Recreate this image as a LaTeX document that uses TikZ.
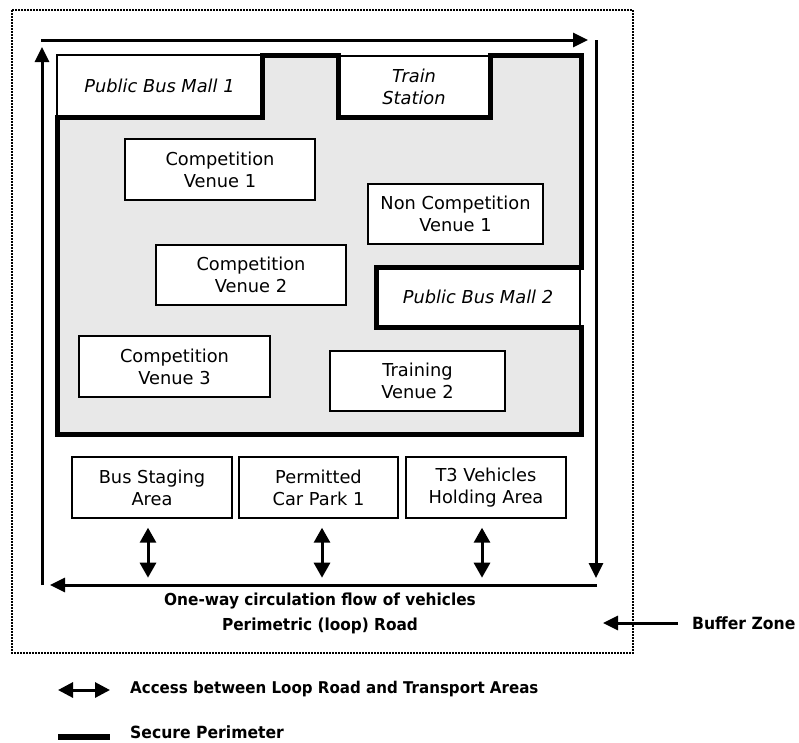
\documentclass[tikz,border=0pt]{standalone}
\usepackage{fontspec}
\setmainfont{DejaVu Sans}
\newfontfamily\labelfont{DejaVu Sans Bold}[FakeStretch=0.93]
\usetikzlibrary{arrows.meta}
\definecolor{zonegray}{RGB}{232,232,232}
\begin{document}
\begin{tikzpicture}[x=1pt,y=-1pt,
  box/.style={draw,line width=1.4pt,fill=white,align=center,inner sep=0pt,
    font=\fontsize{17.8}{22}\selectfont},
  mall/.style={box,font=\fontsize{17.8}{22}\selectfont\itshape},
  perimeter/.style={line width=5pt,line join=miter},
  road/.style={line width=3pt,-{Triangle[length=15pt,width=14pt]}},
  access/.style={line width=3pt,{Triangle[length=15pt,width=16pt]}-{Triangle[length=15pt,width=16pt]}},
  legendtext/.style={anchor=west,inner sep=0pt,font=\labelfont\fontsize{16.8}{24}\selectfont},
  buffer/.style={draw,line width=2pt,dash pattern=on 1.6pt off 1.4pt}
]
\useasboundingbox (0,0) rectangle (799,742);

% buffer zone
\draw[buffer] (12,10) rectangle (633,653);

% secure area background
\fill[zonegray] (57,117) -- (262,117) -- (262,55) -- (338,55) -- (338,117)
  -- (490,117) -- (490,55) -- (581,55) -- (581,267) -- (376,267) -- (376,327)
  -- (581,327) -- (581,434) -- (57,434) -- cycle;

% transport malls on the perimeter
\node[mall,minimum width=205pt,minimum height=62pt] (bm1) at (159.5,86) {Public Bus Mall 1};
\node[mall,minimum width=152pt,minimum height=61pt] (ts) at (414,86.5) {Train\\Station};
\node[mall,minimum width=204pt,minimum height=60pt] (bm2) at (478,297) {Public Bus Mall 2};

% secure perimeter
\draw[perimeter] (57,117) -- (262,117) -- (262,55) -- (338,55) -- (338,117)
  -- (490,117) -- (490,55) -- (581,55) -- (581,267) -- (376,267) -- (376,327)
  -- (581,327) -- (581,434) -- (57,434) -- cycle;

% venues
\node[box,minimum width=190pt,minimum height=61pt] (cv1) at (220,169.5) {Competition\\Venue 1};
\node[box,minimum width=175pt,minimum height=60pt] (ncv1) at (455.5,214) {Non Competition\\Venue 1};
\node[box,minimum width=190pt,minimum height=60pt] (cv2) at (251,275) {Competition\\Venue 2};
\node[box,minimum width=191pt,minimum height=61pt] (cv3) at (174.5,366.5) {Competition\\Venue 3};
\node[box,minimum width=175pt,minimum height=60pt] (tv2) at (417.5,381) {Training\\Venue 2};

% transport areas
\node[box,minimum width=160pt,minimum height=61pt] (bsa) at (152,487.5) {Bus Staging\\Area};
\node[box,minimum width=159pt,minimum height=61pt] (pcp) at (318.5,487.5) {Permitted\\Car Park 1};
\node[box,minimum width=160pt,minimum height=61pt] (t3) at (486,487.5) {T3 Vehicles\\Holding Area};

% loop road corners
\coordinate (topstart) at (41,40);
\coordinate (topend) at (588,40);
\coordinate (rightstart) at (596,40);
\coordinate (rightend) at (596,578);
\coordinate (botstart) at (597,585);
\coordinate (botend) at (50,585);
\coordinate (leftstart) at (42,585);
\coordinate (leftend) at (42,47);

\draw[road] (topstart) -- (topend);
\draw[road] (rightstart) -- (rightend);
\draw[road] (botstart) -- (botend);
\draw[road] (leftstart) -- (leftend);

% access between road and transport areas
\draw[access] ([xshift=-4pt,yshift=-9pt]bsa.south) -- ([xshift=-4pt,yshift=-59pt]bsa.south);
\draw[access] ([xshift=3.5pt,yshift=-9pt]pcp.south) -- ([xshift=3.5pt,yshift=-59pt]pcp.south);
\draw[access] ([xshift=-4pt,yshift=-9pt]t3.south) -- ([xshift=-4pt,yshift=-59pt]t3.south);

% road label
\node[align=center,inner sep=0pt,font=\labelfont\fontsize{16.5}{24}\selectfont] (roadlabel) at (320,613.5)
  {One-way circulation flow of vehicles\\[1.5pt]Perimetric (loop) Road};

% buffer zone label
\node[legendtext] (buf) at (692,623) {Buffer Zone};
\coordinate (buftip) at (603,623);
\draw[road] ([xshift=-14pt]buf.west) -- (buftip);

% legend
\coordinate (accA) at (58,690);
\coordinate (accB) at (110,690);
\draw[line width=3pt,{Triangle[length=15pt,width=15pt]}-{Triangle[length=15pt,width=15pt]}] (accA) -- (accB);
\node[legendtext,font=\labelfont\fontsize{16.2}{24}\selectfont] (accesslbl) at (130,689) {Access between Loop Road and Transport Areas};

\coordinate (perA) at (58,737);
\coordinate (perB) at (110,737);
\draw[line width=5.5pt] (perA) -- (perB);
\node[legendtext] (perimlbl) at (130,732) {Secure Perimeter};
\end{tikzpicture}
\end{document}
